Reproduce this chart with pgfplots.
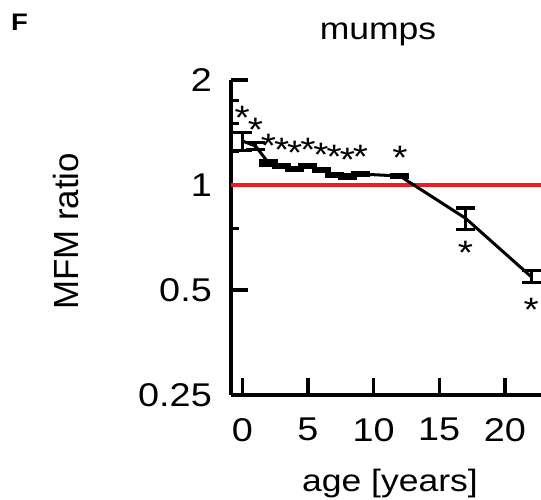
\documentclass[border=0pt]{standalone}
\usepackage{fontspec}
\setmainfont{Liberation Sans}[FakeStretch=1.15]
\newfontfamily\ylabfont{Liberation Sans}
\usepackage{graphicx}
\usepackage{pgfplots}
\pgfplotsset{compat=1.18}
\definecolor{refred}{RGB}{237,28,36}
\newcommand{\tl}[1]{{\fontsize{33}{38}\selectfont #1}}
\begin{document}
\begin{tikzpicture}
\useasboundingbox (0,0) rectangle (541bp,500bp);
\clip (0,0) rectangle (541bp,500bp);
\node[anchor=base west, inner sep=0pt] at (11bp,469bp) {\scalebox{2.4}{\bfseries F}};
\node[anchor=base, inner sep=0pt, font=\fontsize{31}{36}\selectfont] at (378bp,460bp) {mumps};
\node[anchor=base, inner sep=0pt, rotate=90, font={\ylabfont\fontsize{35}{40}\selectfont}] at (78bp,268.5bp) {MFM ratio};
\node[anchor=base, inner sep=0pt, font=\fontsize{31}{36}\selectfont] at (390bp,8.5bp) {age [years]};
\begin{axis}[
  at={(231bp,105bp)}, anchor=south west,
  scale only axis, width=318bp, height=315bp,
  xmin=-0.86, xmax=23.36,
  ymode=log, ymin=0.25, ymax=2,
  axis x line*=bottom, axis y line*=left,
  axis line style={-, line width=3.3bp, black},
  xtick={0,5,10,15,20}, xticklabels={\tl{0},\tl{5},\tl{10},\tl{15},\tl{20}},
  ytick={0.25,0.5,1,2}, yticklabels={\tl{0.25},\tl{0.5},\tl{1},\tl{2}},
  minor ytick={0.75,1.25,1.5,1.75},
  tick align=inside,
  major tick length=17bp, minor tick length=8bp,
  every tick/.style={line width=3.3bp, black},
  tick label style={inner sep=0pt},
  /pgf/number format/assume math mode=true,
  xticklabel style={yshift=-23bp},
  yticklabel style={xshift=-19bp},
  every node near coord/.style={font=\fontsize{34}{38}\selectfont, anchor=base, inner sep=0pt, yshift=-19.5bp},
]
\addplot[refred, line width=3.5bp, mark=none] coordinates {(-0.86,1) (23.36,1)};
\addplot[black, line width=3bp, mark=none,
  error bars/.cd, y dir=both, y explicit,
  error bar style={line width=3bp, black},
  error mark options={rotate=90, mark size=9.5bp, line width=3.2bp, black}]
  coordinates {
  (0,1.337) +- (0,0.08)
  (1,1.294) +- (0,0.028)
  (2,1.156) +- (0,0.015)
  (3,1.134) +- (0,0.012)
  (4,1.111) +- (0,0.012)
  (5,1.134) +- (0,0.012)
  (6,1.104) +- (0,0.012)
  (7,1.068) +- (0,0.012)
  (8,1.056) +- (0,0.012)
  (9,1.075) +- (0,0.012)
  (12,1.061) +- (0,0.012)
  (17,0.803) +- (0,0.056)
  (22,0.546) +- (0,0.022)
  };
\addplot[draw=none, mark=none, nodes near coords={*}] coordinates {
  (0,1.641) (1,1.519) (2,1.361) (3,1.331) (4,1.302) (5,1.331)
  (6,1.282) (7,1.266) (8,1.246) (9,1.266) (12,1.260)
  (17,0.673) (22,0.463)
  };
\end{axis}
\end{tikzpicture}
\end{document}
